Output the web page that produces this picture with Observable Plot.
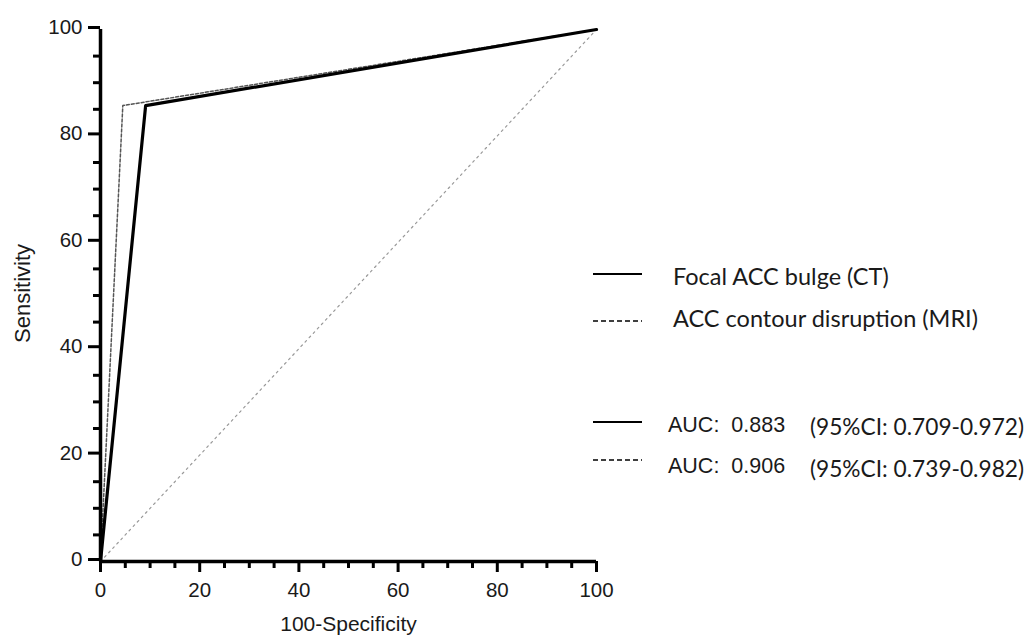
<!DOCTYPE html>
<html><head><meta charset="utf-8">
<script src="https://cdn.jsdelivr.net/npm/d3@7"></script>
<script src="https://cdn.jsdelivr.net/npm/@observablehq/plot@0.6"></script>
<style>
body{margin:0;background:#fff}
#wrap{position:relative;width:1025px;height:635px;overflow:hidden}
#legend{position:absolute;left:0;top:0}
</style>
</head><body><div id="wrap"></div>
<script>
// ROC curve data (100-Specificity, Sensitivity)
const ctX = [0, 9.1, 100];
const ctY = [0, 85.7, 100];
const mriX = [0, 4.5, 100];
const mriY = [0, 85.7, 100];
const refX = [0, 100];
const refY = [0, 100];
const xTicks = [0, 20, 40, 60, 80, 100];
const yTicks = [0, 20, 40, 60, 80, 100];
const minorTicks = [5, 10, 15, 25, 30, 35, 45, 50, 55, 65, 70, 75, 85, 90, 95];
const xTitle = ["100-Specificity"];
const yTitle = ["Sensitivity"];
const seriesNames = ["Focal ACC bulge (CT)", "ACC contour disruption (MRI)"];
const aucLabels = ["AUC:  0.883", "AUC:  0.906"];
const ciLabels = ["(95%CI: 0.709-0.972)", "(95%CI: 0.739-0.982)"];

const ct = ctX.map((x, i) => ({x, y: ctY[i]}));
const mri = mriX.map((x, i) => ({x, y: mriY[i]}));
const ref = refX.map((x, i) => ({x, y: refY[i]}));

const chart = Plot.plot({
  width: 1025, height: 635,
  marginLeft: 100, marginRight: 429, marginTop: 29, marginBottom: 74,
  x: {domain: [0, 100]},
  y: {domain: [0, 100]},
  style: {fontFamily: "'Liberation Sans', Arial, sans-serif", color: "#1a1a1a", background: "#fff", overflow: "visible"},
  marks: [
    Plot.line(ref, {x: "x", y: "y", stroke: "#999", strokeWidth: 1.2, strokeDasharray: "2,4"}),
    Plot.line(mri, {x: "x", y: "y", stroke: "#555", strokeWidth: 1.5, strokeDasharray: "3,2"}),
    Plot.line(ct, {x: "x", y: "y", stroke: "#000", strokeWidth: 3.2}),
    Plot.axisX({ticks: minorTicks, tickSize: 7, strokeWidth: 2.5, stroke: "#000", tickFormat: () => "", label: null}),
    Plot.axisY({ticks: minorTicks, tickSize: 7, strokeWidth: 2.5, stroke: "#000", tickFormat: () => "", label: null}),
    Plot.axisX({ticks: xTicks, tickSize: 11, strokeWidth: 3, stroke: "#000", fontSize: 20.5, tickPadding: 10, label: null}),
    Plot.axisY({ticks: yTicks, tickSize: 12, strokeWidth: 3, stroke: "#000", fontSize: 20.5, tickPadding: 6, dy: -2, label: null}),
    Plot.ruleX([0], {stroke: "#000", strokeWidth: 3.5}),
    Plot.ruleY([0], {stroke: "#000", strokeWidth: 3.5}),
    Plot.text(xTitle, {frameAnchor: "bottom", dy: 69, fontSize: 21, fill: "#1a1a1a"}),
    Plot.text(yTitle, {frameAnchor: "left", rotate: -90, textAnchor: "middle", dx: -78, dy: -2, fontSize: 22, fill: "#1a1a1a"})
  ]
});
chart.querySelectorAll("g[aria-label$='tick']").forEach(g => {
  g.setAttribute("stroke-width", 3);
  g.querySelectorAll("path").forEach(p => p.setAttribute("stroke-width", 3));
});
const wrap = document.getElementById("wrap");
wrap.appendChild(chart);

// Legend overlay
const lg = d3.select(wrap).append("svg").attr("id", "legend").attr("width", 1025).attr("height", 635);
const rows = [
  {y: 274, dash: null, name: seriesNames[0], ty: 285},
  {y: 321, dash: "5,3", name: seriesNames[1], ty: 327}
];
rows.forEach(r => {
  lg.append("line").attr("x1", 593).attr("x2", 642).attr("y1", r.y).attr("y2", r.y)
    .attr("stroke", "#000").attr("stroke-width", r.dash ? 1.3 : 2).attr("stroke-dasharray", r.dash);
  lg.append("text").attr("x", 673).attr("y", r.ty).attr("font-family", "Lato, 'Open Sans', sans-serif")
    .attr("font-size", 23.5).attr("fill", "#1a1a1a").text(r.name);
});
const aucRows = [
  {y: 422, dash: null, auc: aucLabels[0], ci: ciLabels[0], ty: 432, cy: 435},
  {y: 460, dash: "5,3", auc: aucLabels[1], ci: ciLabels[1], ty: 473, cy: 477}
];
aucRows.forEach(r => {
  lg.append("line").attr("x1", 593).attr("x2", 642).attr("y1", r.y).attr("y2", r.y)
    .attr("stroke", "#000").attr("stroke-width", r.dash ? 1.3 : 2).attr("stroke-dasharray", r.dash);
  lg.append("text").attr("x", 668).attr("y", r.ty).attr("font-family", "'Liberation Sans', Arial, sans-serif")
    .attr("font-size", 21.5).attr("fill", "#1a1a1a").style("white-space", "pre").text(r.auc);
  lg.append("text").attr("x", 810).attr("y", r.cy).attr("font-family", "Lato, 'Open Sans', sans-serif")
    .attr("font-size", 22.7).attr("fill", "#1a1a1a").text(r.ci);
});
</script>
</body></html>
